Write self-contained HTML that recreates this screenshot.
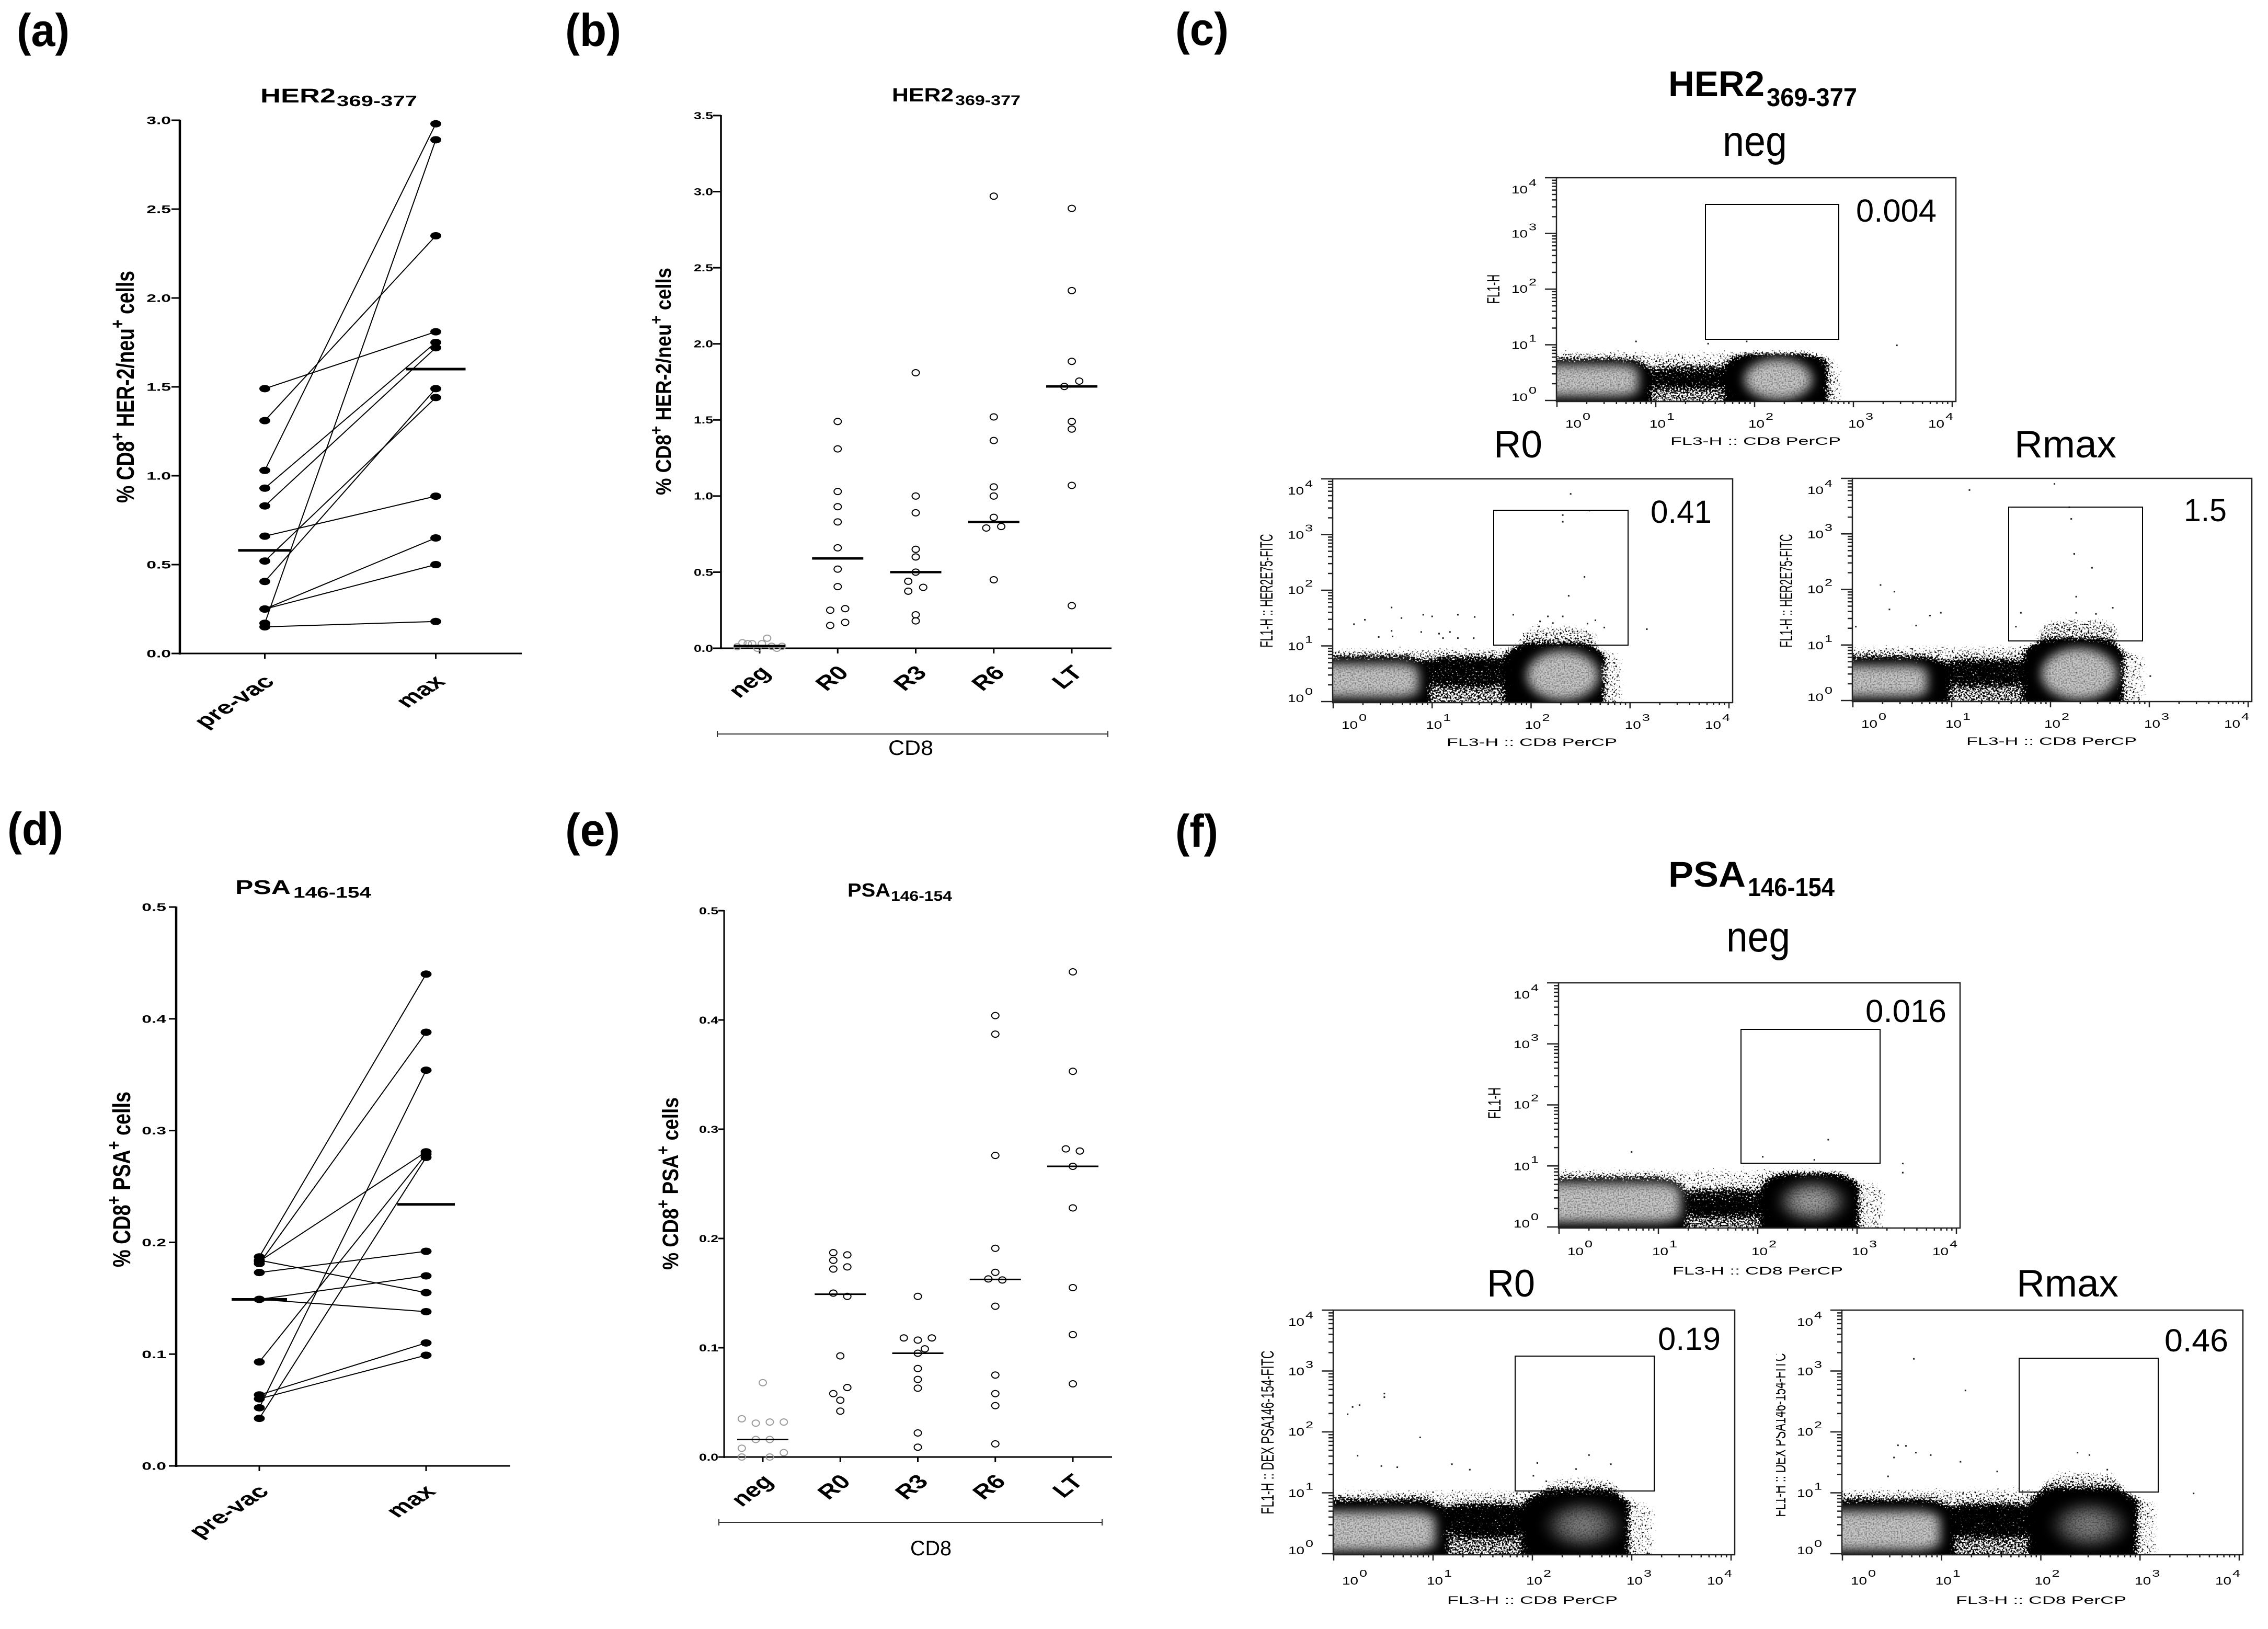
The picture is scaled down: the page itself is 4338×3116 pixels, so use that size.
<!DOCTYPE html>
<html lang="en">
<head>
<meta charset="utf-8">
<title>HER2 and PSA CD8+ responses</title>
<style>
html,body{margin:0;padding:0;background:#fff;}
svg{display:block;font-family:"Liberation Sans",Arial,sans-serif;}
text{fill:#000;}
.b{font-weight:bold;}
</style>
</head>
<body>
<svg id="fig" xmlns="http://www.w3.org/2000/svg" width="4338" height="3116" viewBox="0 0 4338 3116">
<defs>
<filter id="stipple" x="-5%" y="-15%" width="110%" height="130%" color-interpolation-filters="sRGB">
<feGaussianBlur in="SourceAlpha" stdDeviation="8" result="b"/>
<feTurbulence type="fractalNoise" baseFrequency="0.3" numOctaves="2" seed="7" result="n"/>
<feColorMatrix in="n" type="matrix" values="0 0 0 0 0 0 0 0 0 0 0 0 0 0 0 1 0 0 0 0" result="na"/>
<feComposite in="b" in2="na" operator="arithmetic" k1="0" k2="1" k3="1" k4="-1" result="s"/>
<feComponentTransfer in="s"><feFuncA type="linear" slope="7" intercept="0"/></feComponentTransfer>
</filter>
<filter id="grain" x="-20%" y="-25%" width="140%" height="150%" color-interpolation-filters="sRGB">
<feGaussianBlur in="SourceGraphic" stdDeviation="10" result="g"/>
<feTurbulence type="fractalNoise" baseFrequency="0.35" numOctaves="1" seed="11" result="n"/>
<feColorMatrix in="n" type="matrix" values="0 0 0 0 0 0 0 0 0 0 0 0 0 0 0 1.1 0 0 0 -0.45" result="a"/>
<feComposite in="a" in2="g" operator="in" result="c"/>
<feMerge><feMergeNode in="g"/><feMergeNode in="c"/></feMerge>
</filter>
<radialGradient id="coreMid">
<stop offset="0" stop-color="#b0b0b0"/>
<stop offset="0.55" stop-color="#848484"/>
<stop offset="1" stop-color="#222" stop-opacity="0.2"/>
</radialGradient>
<radialGradient id="coreDark">
<stop offset="0" stop-color="#8e8e8e"/>
<stop offset="0.55" stop-color="#606060"/>
<stop offset="1" stop-color="#202020" stop-opacity="0.2"/>
</radialGradient>
</defs>

<!-- panel letters -->
<text class="b" x="32" y="88" font-size="88" textLength="101" lengthAdjust="spacingAndGlyphs">(a)</text>
<text class="b" x="1081" y="88" font-size="88" textLength="107" lengthAdjust="spacingAndGlyphs">(b)</text>
<text class="b" x="2248" y="86" font-size="88" textLength="102" lengthAdjust="spacingAndGlyphs">(c)</text>
<text class="b" x="14" y="1616" font-size="88" textLength="107" lengthAdjust="spacingAndGlyphs">(d)</text>
<text class="b" x="1081" y="1618" font-size="88" textLength="105" lengthAdjust="spacingAndGlyphs">(e)</text>
<text class="b" x="2248" y="1620" font-size="88" textLength="82" lengthAdjust="spacingAndGlyphs">(f)</text>

<!-- titles of the four dot plots -->
<g>
<text class="b" x="498" y="196" font-size="38" textLength="144" lengthAdjust="spacingAndGlyphs">HER2</text>
<text class="b" x="644" y="203" font-size="29" textLength="154" lengthAdjust="spacingAndGlyphs">369-377</text>
</g>
<g>
<text class="b" x="1706" y="194" font-size="36" textLength="118" lengthAdjust="spacingAndGlyphs">HER2</text>
<text class="b" x="1827" y="201" font-size="27" textLength="125" lengthAdjust="spacingAndGlyphs">369-377</text>
</g>
<g>
<text class="b" x="450" y="1710" font-size="38" textLength="106" lengthAdjust="spacingAndGlyphs">PSA</text>
<text class="b" x="561" y="1717" font-size="29" textLength="149" lengthAdjust="spacingAndGlyphs">146-154</text>
</g>
<g>
<text class="b" x="1621" y="1715" font-size="36" textLength="82" lengthAdjust="spacingAndGlyphs">PSA</text>
<text class="b" x="1704" y="1723" font-size="27" textLength="117" lengthAdjust="spacingAndGlyphs">146-154</text>
</g>

<!-- y-axis titles -->
<text class="b" transform="translate(256,962) rotate(-90)" font-size="47" textLength="444" lengthAdjust="spacingAndGlyphs">% CD8<tspan dy="-19" font-size="36">+</tspan><tspan dy="19"> HER-2/neu</tspan><tspan dy="-19" font-size="36">+</tspan><tspan dy="19"> cells</tspan></text>
<text class="b" transform="translate(1283,947) rotate(-90)" font-size="41" textLength="435" lengthAdjust="spacingAndGlyphs">% CD8<tspan dy="-17" font-size="32">+</tspan><tspan dy="17"> HER-2/neu</tspan><tspan dy="-17" font-size="32">+</tspan><tspan dy="17"> cells</tspan></text>
<text class="b" transform="translate(249,2424) rotate(-90)" font-size="47" textLength="336" lengthAdjust="spacingAndGlyphs">% CD8<tspan dy="-19" font-size="36">+</tspan><tspan dy="19"> PSA</tspan><tspan dy="-19" font-size="36">+</tspan><tspan dy="19"> cells</tspan></text>
<text class="b" transform="translate(1297,2429) rotate(-90)" font-size="43" textLength="330" lengthAdjust="spacingAndGlyphs">% CD8<tspan dy="-18" font-size="33">+</tspan><tspan dy="18"> PSA</tspan><tspan dy="-18" font-size="33">+</tspan><tspan dy="18"> cells</tspan></text>

<!-- CD8 brackets -->
<g stroke="#333" stroke-width="2" fill="none">
<path d="M1372 1404H2119M1372 1398V1410M2119 1398V1410"/>
</g>
<text x="1699" y="1444" font-size="40" textLength="86" lengthAdjust="spacingAndGlyphs">CD8</text>
<g stroke="#333" stroke-width="2" fill="none">
<path d="M1375 2912H2108M1375 2906V2918M2108 2906V2918"/>
</g>
<text x="1741" y="2975" font-size="40" textLength="79" lengthAdjust="spacingAndGlyphs">CD8</text>

<!-- flow panel headings -->
<g>
<text class="b" x="3191" y="184" font-size="69" textLength="184" lengthAdjust="spacingAndGlyphs">HER2</text>
<text class="b" x="3379" y="203" font-size="49" textLength="173" lengthAdjust="spacingAndGlyphs">369-377</text>
</g>
<text x="3295" y="298" font-size="82" textLength="123" lengthAdjust="spacingAndGlyphs">neg</text>
<text x="2857" y="875" font-size="73" textLength="93" lengthAdjust="spacingAndGlyphs">R0</text>
<text x="3853" y="875" font-size="73" textLength="195" lengthAdjust="spacingAndGlyphs">Rmax</text>
<g>
<text class="b" x="3191" y="1696" font-size="69" textLength="148" lengthAdjust="spacingAndGlyphs">PSA</text>
<text class="b" x="3343" y="1714" font-size="49" textLength="166" lengthAdjust="spacingAndGlyphs">146-154</text>
</g>
<text x="3302" y="1820" font-size="82" textLength="122" lengthAdjust="spacingAndGlyphs">neg</text>
<text x="2844" y="2480" font-size="73" textLength="92" lengthAdjust="spacingAndGlyphs">R0</text>
<text x="3857" y="2480" font-size="73" textLength="195" lengthAdjust="spacingAndGlyphs">Rmax</text>

<g id="charts"></g>
<g id="flows"></g>

<!-- gate percentages -->
<text x="3550" y="424" font-size="61" textLength="154" lengthAdjust="spacingAndGlyphs">0.004</text>
<text x="3157" y="1000" font-size="61" textLength="117" lengthAdjust="spacingAndGlyphs">0.41</text>
<text x="4177" y="997" font-size="61" textLength="82" lengthAdjust="spacingAndGlyphs">1.5</text>
<text x="3568" y="1955" font-size="61" textLength="155" lengthAdjust="spacingAndGlyphs">0.016</text>
<text x="3171" y="2582" font-size="61" textLength="120" lengthAdjust="spacingAndGlyphs">0.19</text>
<text x="4140" y="2585" font-size="61" textLength="122" lengthAdjust="spacingAndGlyphs">0.46</text>
</svg>

<script>
/* ---------- paired dot plots (a, d) ---------- */
const pairedCategories = ['pre-vac', 'max'];
const aPre = [1.49, 1.31, 1.03, 0.93, 0.83, 0.66, 0.52, 0.405, 0.25, 0.25, 0.17, 0.15];
const aMax = [1.81, 2.35, 2.98, 1.75, 1.72, 0.885, 1.44, 1.49, 0.65, 0.50, 2.89, 0.18];
const aMeans = [0.58, 1.60];
const aTicks = ['0.0', '0.5', '1.0', '1.5', '2.0', '2.5', '3.0'];

const dPre = [0.187, 0.184, 0.181, 0.183, 0.173, 0.149, 0.149, 0.093, 0.0635, 0.06, 0.052, 0.0425];
const dMax = [0.44, 0.155, 0.388, 0.281, 0.192, 0.17, 0.138, 0.279, 0.11, 0.099, 0.354, 0.276];
const dMeans = [0.149, 0.234];
const dTicks = ['0.0', '0.1', '0.2', '0.3', '0.4', '0.5'];

/* ---------- swarm dot plots (b, e) ---------- */
const swarmCategories = ['neg', 'R0', 'R3', 'R6', 'LT'];
const bValues = [
  [0.01, 0.036, 0.03, 0.03, 0, 0.03, 0.066, 0.013, 0, 0.013],
  [1.49, 1.31, 1.03, 0.93, 0.83, 0.66, 0.52, 0.405, 0.25, 0.26, 0.17, 0.15],
  [1.81, 1.0, 0.89, 0.65, 0.6, 0.5, 0.44, 0.40, 0.375, 0.22, 0.18],
  [2.97, 1.52, 1.365, 1.06, 1.0, 0.86, 0.79, 0.80, 0.45],
  [2.89, 2.35, 1.885, 1.755, 1.72, 1.49, 1.44, 1.07, 0.28]
];
const bSides = [
  [-3, -2.3, -1.6, -1, -0.3, 0.3, 1, 1.6, 2.3, 3],
  [0, 0, 0, 0, 0, 0, 0, 0, -1, 1, 1, -1],
  [0, 0, 0, 0, 0, 0, -1, 1, -1, 0, 0],
  [0, 0, 0, 0, 0, 0, -1, 1, 0],
  [0, 0, 0, 1, -1, 0, 0, 0, 0]
];
const bMedians = [0.015, 0.59, 0.5, 0.83, 1.72];
const bTicks = ['0.0', '0.5', '1.0', '1.5', '2.0', '2.5', '3.0', '3.5'];

const eValues = [
  [0.068, 0.035, 0.031, 0.032, 0.032, 0.016, 0.016, 0.008, 0.004, 0, 0],
  [0.187, 0.185, 0.18, 0.172, 0.174, 0.15, 0.147, 0.0925, 0.0636, 0.058, 0.052, 0.042],
  [0.147, 0.109, 0.107, 0.109, 0.099, 0.095, 0.081, 0.071, 0.063, 0.022, 0.009],
  [0.404, 0.387, 0.276, 0.191, 0.169, 0.163, 0.162, 0.138, 0.075, 0.058, 0.047, 0.012],
  [0.444, 0.353, 0.282, 0.28, 0.266, 0.228, 0.155, 0.112, 0.067]
];
const eSides = [
  [0, -3, -1, 1, 3, -1, 1, -3, 3, -3, 1],
  [-1, 1, -1, -1, 1, -1, 1, 0, 1, -1, 0, 0],
  [0, -2, 0, 2, 1, 0, 0, 0, 0, 0, 0],
  [0, 0, 0, 0, 0, -1, 1, 0, 0, 0, 0, 0],
  [0, 0, -1, 1, 0, 0, 0, 0, 0]
];
const eMedians = [0.016, 0.149, 0.095, 0.1625, 0.266];
const eTicks = ['0.0', '0.1', '0.2', '0.3', '0.4', '0.5'];

/* ---------- flow plots: all values are in log10 decades ---------- */
const decadeExponents = ['0', '1', '2', '3', '4'];
/* event-density regions: x1, x2, y1, y2, density */
const cNegRegions = [[-0.2,0.93,-0.3,0.72,1],[0.85,1.9,0.25,0.6,0.74],[0.85,1.9,-0.3,0.4,0.55],[1.72,2.72,-0.3,0.82,1],[-0.2,2.75,0.55,0.92,0.42],[2.55,2.9,-0.3,0.8,0.42]];
const cR0Regions = [[-0.2,0.95,-0.3,0.78,1],[0.85,1.85,0.3,0.78,0.76],[0.85,1.85,-0.3,0.4,0.55],[1.75,2.72,-0.3,1.02,1],[-0.2,2.75,0.6,1.0,0.44],[2.55,2.95,-0.3,0.95,0.42],[1.85,2.7,0.8,1.4,0.46]];
const cRmaxRegions = [[-0.2,0.95,-0.3,0.76,1],[0.85,1.85,0.3,0.72,0.76],[0.85,1.85,-0.3,0.4,0.55],[1.75,2.72,-0.3,1.08,1],[-0.2,2.75,0.55,1.02,0.44],[2.55,2.98,-0.3,0.95,0.42],[1.85,2.72,0.9,1.5,0.48]];
const fNegRegions = [[-0.2,1.25,-0.3,0.78,1],[1.15,2.15,0.2,0.6,0.76],[1.15,2.15,-0.3,0.35,0.56],[2.05,3.0,-0.3,0.85,1],[-0.2,3.0,0.55,0.98,0.42],[2.85,3.3,-0.3,0.8,0.42]];
const fR0Regions = [[-0.2,1.12,-0.3,0.86,1],[1.05,2.0,0.3,0.8,0.8],[1.05,2.0,-0.3,0.4,0.56],[1.92,2.95,-0.3,0.98,1],[-0.2,3.0,0.6,1.08,0.44],[2.8,3.25,-0.3,0.9,0.42],[2.1,2.9,0.85,1.3,0.42]];
const fRmaxRegions = [[-0.2,1.1,-0.3,0.86,1],[1.0,2.0,0.3,0.8,0.8],[1.0,2.0,-0.3,0.4,0.56],[1.9,2.95,-0.3,1.02,1],[-0.2,3.0,0.6,1.1,0.44],[2.8,3.2,-0.3,0.95,0.42],[2.0,2.85,0.9,1.38,0.46]];
/* population cores: cx, cy, rx, ry (first = CD8-negative, second = CD8-positive) */
const cNegCores = [[0.1,0.36,0.72,0.28],[2.24,0.38,0.34,0.36]];
const cR0Cores = [[0.1,0.38,0.76,0.3],[2.32,0.47,0.36,0.44]];
const cRmaxCores = [[0.05,0.35,0.7,0.28],[2.29,0.48,0.38,0.46]];
const fNegCores = [[0.4,0.4,0.82,0.32],[2.55,0.42,0.38,0.38]];
const fR0Cores = [[0.2,0.37,0.82,0.32],[2.51,0.47,0.42,0.42]];
const fRmaxCores = [[0.2,0.38,0.78,0.32],[2.49,0.47,0.42,0.42]];
/* rare events: log x, log y */
const cNegEvents = [[0.8,1.06],[3.44,0.99],[1.53,1.02],[1.92,1.06]];
const cR0Events = [[2.40,3.73],[2.32,3.35],[2.32,3.23],[2.59,3.43],[2.54,2.24],[2.38,1.90],[1.82,1.56],[0.59,1.69],[0.91,1.56],[1.0,1.53],[1.26,1.56],[1.43,1.52],[0.69,1.5],[0.32,1.47],[0.21,1.39],[0.59,1.27],[0.46,1.16],[0.6,1.17],[0.89,1.25],[1.07,1.22],[1.18,1.25],[1.11,1.14],[1.26,1.14],[1.42,1.14],[3.17,1.3],[2.17,1.53],[2.32,1.53],[2.09,1.44],[2.65,1.46],[2.74,1.33],[2.57,1.4],[2.08,1.35],[2.22,1.41]];
const cRmaxEvents = [[1.18,3.79],[2.04,3.90],[2.19,3.48],[2.21,3.27],[2.24,2.64],[2.42,2.39],[2.26,1.87],[2.63,1.67],[0.28,2.08],[0.42,1.96],[0.37,1.64],[0.89,1.58],[0.78,1.53],[1.7,1.58],[0.64,1.35],[0.03,1.33],[1.65,1.33],[2.26,1.58],[2.46,1.56],[3.01,0.44]];
const fNegEvents = [[0.73,1.23],[2.05,1.15],[2.71,1.43],[3.46,1.04],[3.46,0.89],[2.57,1.1]];
const fR0Events = [[0.14,2.29],[0.19,2.41],[0.26,2.44],[0.51,2.63],[0.51,2.57],[0.87,1.91],[0.24,1.61],[0.48,1.44],[0.64,1.42],[1.19,1.47],[1.37,1.38],[2.05,1.49],[2.57,1.62],[2.79,1.47],[2.44,1.39],[2.01,1.28],[2.14,1.19]];
const fRmaxEvents = [[0.72,3.2],[1.24,2.68],[0.56,1.78],[0.64,1.77],[0.52,1.58],[0.74,1.66],[0.89,1.62],[1.19,1.51],[2.37,1.66],[2.49,1.62],[1.56,1.35],[3.54,0.99],[0.46,1.27],[2.67,1.38]];

/* ---------- helpers ---------- */
const NS = 'http://www.w3.org/2000/svg';
function mk(tag, attrs, parent) {
  const el = document.createElementNS(NS, tag);
  for (const k in attrs) el.setAttribute(k, attrs[k]);
  parent.appendChild(el);
  return el;
}
function linear(d0, d1, r0, r1) {
  return v => r0 + (v - d0) * (r1 - r0) / (d1 - d0);
}
const chartsRoot = document.getElementById('charts');
const flowsRoot = document.getElementById('flows');

function drawFrame(cfg, ticks, cats, y) {
  const g = mk('g', {}, chartsRoot);
  
  
  const yAxis = mk('line', {x1: cfg.left, x2: cfg.left, y1: cfg.top - 1, y2: cfg.bottom + 2, stroke: '#000', 'stroke-width': cfg.yw}, g);
  
  
  const xAxis = mk('line', {x1: cfg.left, x2: cfg.right, y1: cfg.bottom, y2: cfg.bottom, stroke: '#000', 'stroke-width': 3}, g);
  
  
  ticks.forEach(t => {
    const py = y(parseFloat(t));
    const tick = mk('line', {x1: cfg.left - cfg.tickLen, x2: cfg.left, y1: py, y2: py, stroke: '#000', 'stroke-width': 3}, g);
    
    
    const label = mk('text', {transform: 'translate(' + cfg.labelRight + ',' + (py + cfg.tickFont * 0.36) + ') scale(' + cfg.tickSx + ',1)', 'text-anchor': 'end', 'font-size': cfg.tickFont, 'font-weight': 'bold'}, g);
    label.textContent = t;
    
    
  });
  cats.forEach((c, i) => {
    const px = cfg.x(i);
    const tick = mk('line', {x1: px, x2: px, y1: cfg.bottom, y2: cfg.bottom + 10, stroke: '#000', 'stroke-width': 3}, g);
    
    
    const label = mk('text', {transform: 'translate(' + (px + cfg.catDx) + ',' + (cfg.bottom + cfg.catDy) + ') scale(' + cfg.catSx + ',1) rotate(-45)', 'text-anchor': 'end', 'font-size': cfg.catFont, 'font-weight': 'bold'}, g);
    label.textContent = c;
    
    
  });
  return g;
}

function drawPaired(cfg, pre, max, means, ticks) {
  const y = linear(0, cfg.yMax, cfg.bottom, cfg.top);
  const g = drawFrame(cfg, ticks, pairedCategories, y);
  pre.forEach((v, i) => {
    const line = mk('line', {x1: cfg.x(0), y1: y(v), x2: cfg.x(1), y2: y(max[i]), stroke: '#000', 'stroke-width': 2}, g);
    
    
  });
  [pre, max].forEach((series, c) => {
    series.forEach(v => {
      const dot = mk('ellipse', {cx: cfg.x(c), cy: y(v), rx: 10.5, ry: 7, fill: '#000'}, g);
      
      
    });
  });
  means.forEach((m, c) => {
    const bar = mk('line', {x1: cfg.x(c) - cfg.meanHalf[c], x2: cfg.x(c) + cfg.meanHalf[c], y1: y(m), y2: y(m), stroke: '#000', 'stroke-width': 5}, g);
    
    
  });
}

function drawSwarm(cfg, values, sides, medians, ticks) {
  const y = linear(0, cfg.yMax, cfg.bottom, cfg.top);
  const g = drawFrame(cfg, ticks, swarmCategories, y);
  values.forEach((series, c) => {
    series.forEach((v, i) => {
      const dot = mk('ellipse', {cx: cfg.x(c) + sides[c][i] * cfg.slot, cy: y(v), rx: 7, ry: 6, fill: 'none', stroke: c === 0 ? '#9a9a9a' : '#000', 'stroke-width': 2}, g);
      
      
    });
  });
  medians.forEach((m, c) => {
    const bar = mk('line', {x1: cfg.x(c) - 49, x2: cfg.x(c) + 49, y1: y(m), y2: y(m), stroke: '#000', 'stroke-width': cfg.medW}, g);
    
    
  });
}

function drawFlow(p) {
  const g = mk('g', {}, flowsRoot);
  
  
  const dx = (p.R - p.L - 8) / 4;
  const dy = (p.B - 2 - p.T) / 4;
  const px = v => p.L + 1 + v * dx;
  const py = v => p.B - 2 - v * dy;
  const clipId = 'clip-' + p.id;
  const clip = mk('clipPath', {id: clipId}, g);
  mk('rect', {x: p.L, y: p.T, width: p.R - p.L, height: p.B - p.T}, clip);
  const inner = mk('g', {'clip-path': 'url(#' + clipId + ')'}, g);
  const cloud = mk('g', {filter: 'url(#stipple)'}, inner);
  
  
  p.regions.forEach(r => {
    mk('rect', {x: px(r[0]), y: py(r[3]), width: px(r[1]) - px(r[0]), height: py(r[2]) - py(r[3]), rx: 0.3 * dx, ry: 0.22 * dy, fill: '#000', 'fill-opacity': r[4]}, cloud);
  });
  const cores = mk('g', {filter: 'url(#grain)'}, inner);
  
  
  p.cores.forEach((c, i) => {
    const w = c[2] * dx, h = c[3] * dy;
    mk('rect', {x: px(c[0]) - w, y: py(c[1]) - h, width: 2 * w, height: 2 * h, rx: i === 0 ? 0.35 * w : w, ry: i === 0 ? 0.4 * h : h, fill: p.tones[i]}, cores);
  });
  p.events.forEach(e => {
    const ev = mk('rect', {x: px(e[0]) - 1.5, y: py(e[1]) - 1.5, width: 3, height: 3, fill: '#222'}, g);
    
    
  });
  const box = mk('rect', {x: p.L, y: p.T, width: p.R - p.L, height: p.B - p.T, fill: 'none', stroke: '#222', 'stroke-width': 2.5}, g);
  
  
  const gate = mk('rect', {x: p.gate[0], y: p.gate[1], width: p.gate[2] - p.gate[0], height: p.gate[3] - p.gate[1], fill: 'none', stroke: '#000', 'stroke-width': 2}, g);
  
  

  const minor = [2, 3, 4, 5, 6, 7, 8, 9].map(Math.log10);
  const tickPath = [];
  decadeExponents.forEach((e, i) => {
    const X = px(i), Y = py(i);
    tickPath.push('M' + X + ' ' + p.B + 'v11');
    tickPath.push('M' + (p.L - 22) + ' ' + Y + 'h22');
    if (i < 4) minor.forEach(m => {
      tickPath.push('M' + px(i + m) + ' ' + p.B + 'v5');
      tickPath.push('M' + (p.L - 9) + ' ' + py(i + m) + 'h9');
    });
  });
  const ticks = mk('path', {d: tickPath.join(''), stroke: '#222', 'stroke-width': 2.5, fill: 'none'}, g);
  
  

  const xShift = [16, -12, -12, -10, -46];
  const yShift = [1, 8, 7, 8, 30];
  decadeExponents.forEach((e, i) => {
    const bx = px(i) + xShift[i], by = p.B + p.tickDrop;
    const a = mk('text', {x: bx, y: by, 'font-size': 21, textLength: 31, lengthAdjust: 'spacingAndGlyphs', fill: '#111'}, g);
    a.textContent = '10';
    
    
    const b = mk('text', {x: bx + 33, y: by - 15, 'font-size': 18, textLength: 15, lengthAdjust: 'spacingAndGlyphs', fill: '#111'}, g);
    b.textContent = e;
    
    
    const ly = py(i) + yShift[i], lx = p.L - 86;
    const c = mk('text', {x: lx, y: ly, 'font-size': 21, textLength: 31, lengthAdjust: 'spacingAndGlyphs', fill: '#111'}, g);
    c.textContent = '10';
    
    
    const d = mk('text', {x: lx + 33, y: ly - 14, 'font-size': 18, textLength: 15, lengthAdjust: 'spacingAndGlyphs', fill: '#111'}, g);
    d.textContent = e;
    
    
  });

  const xt = mk('text', {x: p.L + 218, y: p.B + p.titleDrop, 'font-size': 21, textLength: 326, lengthAdjust: 'spacingAndGlyphs', fill: '#222'}, g);
  xt.textContent = 'FL3-H :: CD8 PerCP';
  
  

  const yt = mk('text', {transform: 'translate(' + p.yTitleX + ',' + p.yTitleY + ') rotate(-90)', 'font-size': p.yTitleFont, 'text-anchor': 'middle', textLength: p.yTitleLen, lengthAdjust: 'spacingAndGlyphs', fill: '#222'}, g);
  yt.textContent = p.yTitle;
  
  
  if (p.yClip) {
    const cover = mk('rect', {x: p.yTitleX - 60, y: p.yTitleY - p.yTitleLen / 2 - 5, width: 60 - p.yClip, height: p.yTitleLen + 10, fill: '#fff'}, g);
    
    
  }
}

/* ---------- build ---------- */
drawPaired({id: 'a', left: 344, right: 998, top: 230, bottom: 1250, yMax: 3, yw: 4.5, x: linear(0, 1, 506.5, 833.5), tickLen: 16, labelRight: 327, tickFont: 21, tickSx: 1.6, catDx: 21, catDy: 56, catSx: 1.53, catFont: 35, meanHalf: [51, 57]}, aPre, aMax, aMeans, aTicks);
drawSwarm({id: 'b', left: 1379, right: 2126, top: 221, bottom: 1240, yMax: 3.5, yw: 3.5, x: linear(0, 4, 1453, 2050), tickLen: 15, labelRight: 1364, tickFont: 19, tickSx: 1.4, catDx: 23, catDy: 49, catSx: 1.3, catFont: 38, slot: 14.3, medW: 4.5}, bValues, bSides, bMedians, bTicks);
drawPaired({id: 'd', left: 337, right: 976, top: 1735, bottom: 2804, yMax: 0.5, yw: 4.5, x: linear(0, 1, 496, 815), tickLen: 14, labelRight: 318, tickFont: 21, tickSx: 1.6, catDx: 21, catDy: 51, catSx: 1.53, catFont: 35, meanHalf: [53, 55]}, dPre, dMax, dMeans, dTicks);
drawSwarm({id: 'e', left: 1385, right: 2127, top: 1742, bottom: 2787, yMax: 0.5, yw: 3, x: linear(0, 4, 1459, 2052), tickLen: 11, labelRight: 1374, tickFont: 19, tickSx: 1.4, catDx: 22, catDy: 49, catSx: 1.3, catFont: 38, slot: 13.4, medW: 3}, eValues, eSides, eMedians, eTicks);

const HER = 'FL1-H :: HER2E75-FITC';
const PSA = 'FL1-H :: DEX PSA146-154-FITC';
const LIGHT = '#c8c8c8';
const MID = 'url(#coreMid)';
const DARK = 'url(#coreDark)';
[
  {id: 'c-neg', L: 2977, R: 3741, T: 340, B: 768, gate: [3262, 391, 3517, 649], regions: cNegRegions, cores: cNegCores, events: cNegEvents, tones: [LIGHT, LIGHT], tickDrop: 50, titleDrop: 83, yTitle: 'FL1-H', yTitleX: 2868, yTitleY: 553, yTitleFont: 34, yTitleLen: 56},
  {id: 'c-r0', L: 2549, R: 3314, T: 916, B: 1344, gate: [2857, 976, 3114, 1234], regions: cR0Regions, cores: cR0Cores, events: cR0Events, tones: [LIGHT, LIGHT], tickDrop: 50, titleDrop: 83, yTitle: HER, yTitleX: 2434, yTitleY: 1130, yTitleFont: 34, yTitleLen: 217},
  {id: 'c-rmax', L: 3543, R: 4307, T: 915, B: 1342, gate: [3842, 970, 4098, 1226], regions: cRmaxRegions, cores: cRmaxCores, events: cRmaxEvents, tones: [LIGHT, LIGHT], tickDrop: 50, titleDrop: 83, yTitle: HER, yTitleX: 3428, yTitleY: 1130, yTitleFont: 34, yTitleLen: 217},
  {id: 'f-neg', L: 2981, R: 3749, T: 1880, B: 2349, gate: [3330, 1969, 3596, 2225], regions: fNegRegions, cores: fNegCores, events: fNegEvents, tones: [LIGHT, MID], tickDrop: 52, titleDrop: 89, yTitle: 'FL1-H', yTitleX: 2870, yTitleY: 2110, yTitleFont: 34, yTitleLen: 60},
  {id: 'f-r0', L: 2550, R: 3318, T: 2506, B: 2974, gate: [2898, 2594, 3164, 2852], regions: fR0Regions, cores: fR0Cores, events: fR0Events, tones: [LIGHT, DARK], tickDrop: 57, titleDrop: 94, yTitle: PSA, yTitleX: 2436, yTitleY: 2740, yTitleFont: 34, yTitleLen: 313},
  {id: 'f-rmax', L: 3523, R: 4290, T: 2506, B: 2974, gate: [3862, 2598, 4128, 2854], regions: fRmaxRegions, cores: fRmaxCores, events: fRmaxEvents, tones: [LIGHT, DARK], tickDrop: 57, titleDrop: 94, yTitle: PSA, yTitleX: 3415, yTitleY: 2745, yTitleFont: 34, yTitleLen: 313, yClip: 18}
].forEach(drawFlow);
</script>
</body>
</html>
